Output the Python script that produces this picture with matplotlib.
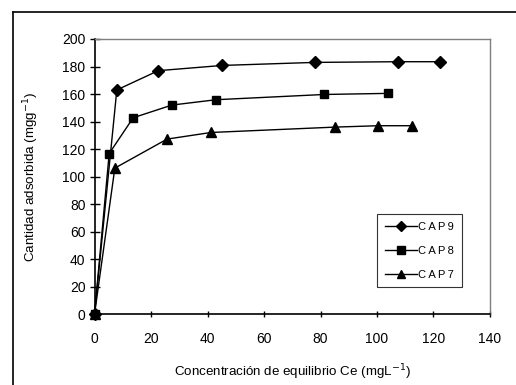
import matplotlib
matplotlib.use("Agg")
import matplotlib.pyplot as plt
from matplotlib.lines import Line2D

plt.rcParams['font.family'] = ['Liberation Sans', 'DejaVu Sans']

cap9_x = [0, 7.9, 22.6, 45.3, 77.9, 107.3, 122.2]
cap9_y = [0, 163, 177, 180.8, 183, 183.5, 183.5]
cap8_x = [0, 5.2, 13.7, 27.4, 43.1, 81.3, 104.0]
cap8_y = [0, 116.8, 142.8, 152, 155.9, 159.7, 160.5]
cap7_x = [0, 7.2, 25.7, 41.3, 85.2, 100.5, 112.4]
cap7_y = [0, 106.2, 127.3, 132.1, 136, 137, 137]
labels = ['C\u2009A\u2009P\u20099', 'C\u2009A\u2009P\u20098', 'C\u2009A\u2009P\u20097']
xticks = [0, 20, 40, 60, 80, 100, 120, 140]
yticks = [0, 20, 40, 60, 80, 100, 120, 140, 160, 180, 200]

W, H = 516, 385
fig = plt.figure(figsize=(W / 100, H / 100), dpi=100)
ax = fig.add_axes([94.5 / W, 1 - 314.3 / H, (490 - 94.5) / W, (314.3 - 39) / H])

series = [(cap9_x, cap9_y, 'D', 6.0), (cap8_x, cap8_y, 's', 6.0), (cap7_x, cap7_y, '^', 7.0)]
for (x, y, m, ms), lab in zip(series, labels):
    ax.plot(x, y, color='black', lw=1.0, marker=m, markersize=ms,
            markerfacecolor='black', markeredgecolor='black', label=lab, clip_on=False, zorder=3)

ax.set_xlim(0, 140)
ax.set_ylim(0, 200)
ax.set_xticks(xticks)
ax.set_yticks(yticks)
ax.tick_params(axis='y', direction='inout', length=7, width=1, labelsize=10, pad=3)
ax.tick_params(axis='x', direction='inout', length=5, width=1, labelsize=10, pad=10)
for s in ['left', 'bottom']:
    ax.spines[s].set_color('black')
    ax.spines[s].set_linewidth(1.2)
for s in ['top', 'right']:
    ax.spines[s].set_color('#7f7f7f')
    ax.spines[s].set_linewidth(1.0)

ax.set_xlabel('Concentración de equilibrio Ce (mgL$^{-1}$)', fontsize=9.6, labelpad=12)
ax.set_ylabel('Cantidad adsorbida (mgg$^{-1}$)', fontsize=9.6, labelpad=15)

leg = ax.legend(loc='upper left', bbox_to_anchor=((377.3 - 94.5) / 395.5, 1 - (214 - 39) / 275.3),
                fontsize=8, frameon=True, fancybox=False, handlelength=2.9,
                handletextpad=0.1, borderpad=0.7, labelspacing=1.25, borderaxespad=0,
                markerscale=0.85)
leg.get_frame().set_edgecolor('black')
leg.get_frame().set_linewidth(0.8)

# outer frame lines (top and left)
fig.add_artist(Line2D([13 / W, 1.0], [1 - 12 / H, 1 - 12 / H], color='black', lw=1.2))
fig.add_artist(Line2D([13 / W, 13 / W], [1 - 12 / H, 0], color='black', lw=1.2))

fig.savefig('out.png', dpi=100)
